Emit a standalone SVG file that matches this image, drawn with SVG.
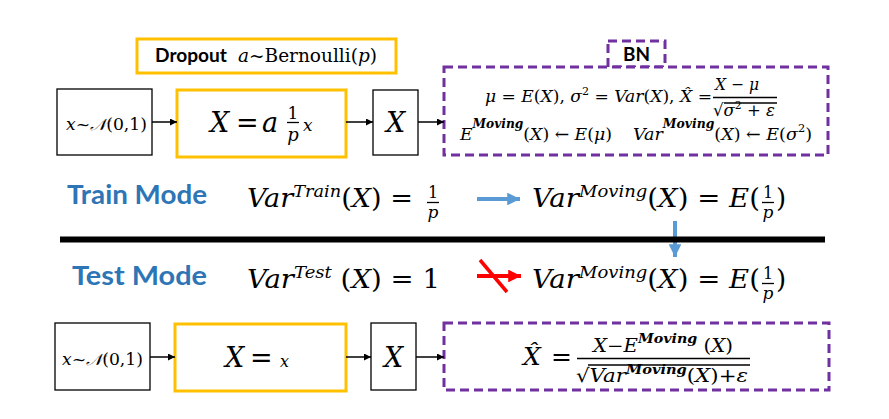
<svg xmlns="http://www.w3.org/2000/svg" width="889" height="419" viewBox="0 0 889 419">
<style>
.box{fill:#fff;stroke:#000;stroke-width:1.3}
.gold{fill:#fff;stroke:#FFC000;stroke-width:3}
.bn{fill:#fff;stroke:#7030A0;stroke-width:3;stroke-dasharray:9 5}
.m{font-family:"DejaVu Serif","Liberation Serif",serif;font-style:italic;fill:#000}
.r{font-family:"DejaVu Serif","Liberation Serif",serif;font-style:normal;fill:#000}
.n{font-style:normal}
.b{font-weight:bold}
.lbl{font-family:Lato,"Liberation Sans",sans-serif;font-weight:bold;fill:#000}
.mode{font-family:Lato,"Liberation Sans",sans-serif;font-weight:bold;fill:#2E75B6;font-size:26px}
.conn{stroke:#000;stroke-width:1.5;fill:none}
.bar{stroke:#000;stroke-width:1.3}
</style>
<defs>
<marker id="ah" viewBox="0 0 10 10" refX="10" refY="5" markerWidth="7" markerHeight="7" markerUnits="userSpaceOnUse" orient="auto"><path d="M0,0 L10,5 L0,10 z" fill="#000"/></marker>
<marker id="bh" viewBox="0 0 10 10" refX="10" refY="5" markerWidth="3.2" markerHeight="3.2" orient="auto"><path d="M0,0 L10,5 L0,10 z" fill="#5B9BD5"/></marker>
<marker id="rh" viewBox="0 0 10 10" refX="10" refY="5" markerWidth="3.2" markerHeight="3.2" orient="auto"><path d="M0,0 L10,5 L0,10 z" fill="#FF0000"/></marker>
</defs>
<rect width="889" height="419" fill="#fff"/>

<g id="dropout-label">
<rect x="137" y="39" width="259" height="34" class="gold"/>
<text x="155" y="62" class="lbl" font-size="18" textLength="72" lengthAdjust="spacingAndGlyphs">Dropout</text>
<text x="238" y="62" class="m" font-size="18" textLength="139" lengthAdjust="spacingAndGlyphs">a<tspan class="n">~Bernoulli(</tspan>p<tspan class="n">)</tspan></text>
</g>

<g id="bn-tab">
<rect x="608" y="41" width="57" height="26" class="bn"/>
<text x="623" y="61" class="lbl" font-size="18" textLength="27" lengthAdjust="spacingAndGlyphs">BN</text>
</g>

<g id="input-train">
<rect x="57" y="89" width="95" height="66" class="box"/>
<text x="66" y="130" class="m" font-size="16" textLength="81" lengthAdjust="spacingAndGlyphs">x<tspan class="n">~</tspan>𝒩<tspan class="n">(0,1)</tspan></text>
</g>

<g id="dropout-train">
<rect x="177" y="90" width="169" height="67" class="gold"/>
<text x="210" y="132" class="m" font-size="27">X<tspan class="n" x="236">=</tspan><tspan x="262">a</tspan></text>
<text x="293" y="119" class="r" font-size="17" text-anchor="middle">1</text>
<line x1="287" y1="122.5" x2="299" y2="122.5" class="bar" stroke-width="1.6"/>
<text x="293" y="141" class="m" font-size="18" text-anchor="middle">p</text>
<text x="303" y="131" class="m" font-size="17">x</text>
</g>

<g id="x-train">
<rect x="373" y="90" width="45" height="65" class="box"/>
<text x="395.5" y="132" class="m" font-size="27" text-anchor="middle">X</text>
</g>

<g id="bn-train">
<rect x="444" y="67" width="384" height="88" class="bn"/>
<text x="485" y="102" class="m" font-size="17" textLength="227" lengthAdjust="spacingAndGlyphs">μ <tspan class="n">=</tspan> E<tspan class="n">(</tspan>X<tspan class="n">),</tspan> σ<tspan class="n" font-size="11" dy="-7">2</tspan><tspan class="n" dy="7"> = </tspan>Var<tspan class="n">(</tspan>X<tspan class="n">),</tspan> X̂ <tspan class="n">=</tspan></text>
<text x="715" y="90" class="m" font-size="17" textLength="44" lengthAdjust="spacingAndGlyphs">X <tspan class="n">−</tspan> μ</text>
<line x1="713" y1="97.5" x2="777" y2="97.5" class="bar"/>
<line x1="724" y1="103" x2="777" y2="103" class="bar" stroke-width="1"/>
<text x="713" y="116" class="m" font-size="17" textLength="62" lengthAdjust="spacingAndGlyphs"><tspan class="n">√</tspan>σ<tspan class="n" font-size="11" dy="-7">2</tspan><tspan class="n" dy="7"> + </tspan>ε</text>
<text x="460" y="140" class="m" font-size="17" textLength="152" lengthAdjust="spacingAndGlyphs">E<tspan class="b" font-size="12" dy="-12">Moving</tspan><tspan class="n" dy="12">(</tspan>X<tspan class="n">) ← </tspan>E<tspan class="n">(</tspan>μ<tspan class="n">)</tspan></text>
<text x="633" y="140" class="m" font-size="17" textLength="179" lengthAdjust="spacingAndGlyphs">Var<tspan class="b" font-size="12" dy="-12">Moving</tspan><tspan class="n" dy="12">(</tspan>X<tspan class="n">) ← </tspan>E<tspan class="n">(</tspan>σ<tspan class="n" font-size="11" dy="-8">2</tspan><tspan class="n" dy="8">)</tspan></text>
</g>

<g id="train-mode">
<text x="67" y="204" class="mode" textLength="140" lengthAdjust="spacingAndGlyphs">Train Mode</text>
<text x="247" y="207" class="m" font-size="26" textLength="166" lengthAdjust="spacingAndGlyphs">Var<tspan font-size="17" dy="-10">Train</tspan><tspan class="n" dy="10">(</tspan>X<tspan class="n">) =</tspan></text>
<text x="433" y="198" class="r" font-size="16" text-anchor="middle">1</text>
<line x1="427" y1="202.5" x2="439" y2="202.5" class="bar"/>
<text x="433" y="218" class="m" font-size="17" text-anchor="middle">p</text>
</g>

<g id="moving-train">
<text x="532" y="207" class="m" font-size="26" textLength="228" lengthAdjust="spacingAndGlyphs">Var<tspan font-size="17" dy="-10">Moving</tspan><tspan class="n" dy="10">(</tspan>X<tspan class="n">) = </tspan>E<tspan class="n">(</tspan></text>
<text x="768" y="198" class="r" font-size="16" text-anchor="middle">1</text>
<line x1="762" y1="202.5" x2="774" y2="202.5" class="bar"/>
<text x="768" y="218" class="m" font-size="17" text-anchor="middle">p</text>
<text x="776" y="207" class="r" font-size="26">)</text>
</g>

<g id="test-mode">
<text x="72" y="285" class="mode" textLength="135" lengthAdjust="spacingAndGlyphs">Test  Mode</text>
<text x="247" y="288" class="m" font-size="26" textLength="193" lengthAdjust="spacingAndGlyphs">Var<tspan font-size="17" dy="-10">Test</tspan><tspan class="n" dy="10">  (</tspan>X<tspan class="n">) = 1</tspan></text>
</g>

<g id="moving-test">
<text x="532" y="288" class="m" font-size="26" textLength="228" lengthAdjust="spacingAndGlyphs">Var<tspan font-size="17" dy="-10">Moving</tspan><tspan class="n" dy="10">(</tspan>X<tspan class="n">) = </tspan>E<tspan class="n">(</tspan></text>
<text x="768" y="279" class="r" font-size="16" text-anchor="middle">1</text>
<line x1="762" y1="283.5" x2="774" y2="283.5" class="bar"/>
<text x="768" y="299" class="m" font-size="17" text-anchor="middle">p</text>
<text x="776" y="288" class="r" font-size="26">)</text>
</g>

<g id="input-test">
<rect x="55" y="323" width="95" height="67" class="box"/>
<text x="62" y="365" class="m" font-size="16" textLength="81" lengthAdjust="spacingAndGlyphs">x<tspan class="n">~</tspan>𝒩<tspan class="n">(0,1)</tspan></text>
</g>

<g id="dropout-test">
<rect x="175" y="324" width="171" height="67" class="gold"/>
<text x="225" y="367" class="m" font-size="27">X<tspan class="n" x="250">=</tspan><tspan x="280" font-size="16">x</tspan></text>
</g>

<g id="x-test">
<rect x="371" y="323" width="45" height="67" class="box"/>
<text x="393.5" y="367" class="m" font-size="27" text-anchor="middle">X</text>
</g>

<g id="bn-test">
<rect x="444" y="323" width="385" height="67" class="bn"/>
<text x="523" y="365" class="m" font-size="25">X̂<tspan class="n" x="551">=</tspan></text>
<text x="593" y="352" class="m" font-size="18" textLength="140" lengthAdjust="spacingAndGlyphs">X<tspan class="n">−</tspan>E<tspan class="b" font-size="13" dy="-9">Moving</tspan><tspan class="n" dy="9"> (</tspan>X<tspan class="n">)</tspan></text>
<line x1="577" y1="358.5" x2="750" y2="358.5" class="bar" stroke-width="1.5"/>
<line x1="588" y1="365" x2="750" y2="365" class="bar" stroke-width="1"/>
<text x="576" y="382" class="m" font-size="19" textLength="172" lengthAdjust="spacingAndGlyphs"><tspan class="n">√</tspan>Var<tspan class="b" font-size="13" dy="-8">Moving</tspan><tspan class="n" dy="8">(</tspan>X<tspan class="n">)+</tspan>ε</text>
</g>

<g id="connectors">
<line x1="152" y1="122" x2="177" y2="122" class="conn" marker-end="url(#ah)"/>
<line x1="346" y1="122" x2="373" y2="122" class="conn" marker-end="url(#ah)"/>
<line x1="418" y1="122" x2="444" y2="122" class="conn" marker-end="url(#ah)"/>
<line x1="150" y1="357" x2="175" y2="357" class="conn" marker-end="url(#ah)"/>
<line x1="346" y1="357" x2="371" y2="357" class="conn" marker-end="url(#ah)"/>
<line x1="416" y1="357" x2="444" y2="357" class="conn" marker-end="url(#ah)"/>
<line x1="477" y1="199" x2="520" y2="199" stroke="#5B9BD5" stroke-width="4" marker-end="url(#bh)"/>
<line x1="675" y1="221" x2="675" y2="257" stroke="#5B9BD5" stroke-width="4" marker-end="url(#bh)"/>
<line x1="477" y1="276" x2="521" y2="276" stroke="#FF0000" stroke-width="4" marker-end="url(#rh)"/>
<line x1="480" y1="260" x2="507" y2="292" stroke="#FF0000" stroke-width="3.5"/>
</g>

<g id="divider">
<line x1="60" y1="239.5" x2="825" y2="239.5" stroke="#000" stroke-width="6"/>
</g>
</svg>
